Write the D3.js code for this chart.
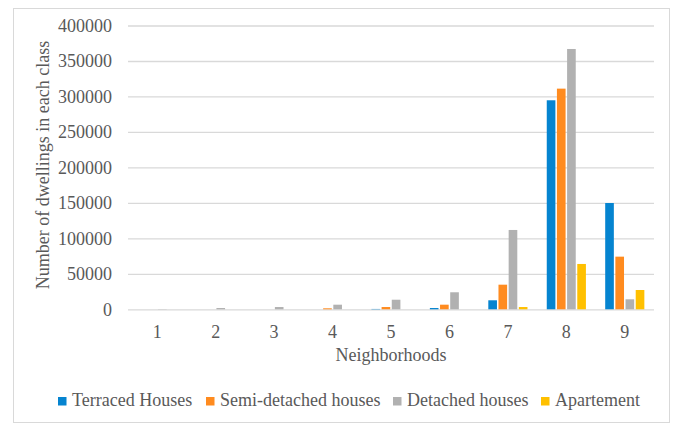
<!DOCTYPE html>
<html>
<head>
<meta charset="utf-8">
<script src="https://cdn.jsdelivr.net/npm/d3@7"></script>
<style>
  html, body { margin: 0; padding: 0; background: #fff; }
  svg text { font-family: "Liberation Serif", "Times New Roman", serif; fill: #595959; }
</style>
</head>
<body>
<div id="chart"></div>
<script>
// Data
const neighborhoods = ["1", "2", "3", "4", "5", "6", "7", "8", "9"];
const seriesNames = ["Terraced Houses", "Semi-detached houses", "Detached houses", "Apartement"];
const terraced = [0, 0, 0, 0, 500, 1800, 12700, 294600, 149800];
const semiDetached = [0, 0, 0, 1400, 3200, 6500, 34700, 311000, 74200];
const detached = [300, 1800, 3200, 6500, 13500, 24000, 111800, 366900, 14100];
const apartement = [0, 0, 0, 0, 0, 0, 3200, 63900, 27200];
const yTicks = [0, 50000, 100000, 150000, 200000, 250000, 300000, 350000, 400000];
const colors = ["#0584D0", "#FF8B1F", "#B1B1B1", "#FFC000"];

const seriesValues = [terraced, semiDetached, detached, apartement];

const width = 674, height = 425;
const margin = { top: 25.5, right: 20, bottom: 115.7, left: 128 };
const innerWidth = width - margin.left - margin.right;
const innerHeight = height - margin.top - margin.bottom;

const svg = d3.select("#chart")
  .append("svg")
  .attr("width", width)
  .attr("height", height);

// outer chart border
svg.append("rect")
  .attr("x", 13.5)
  .attr("y", 8.5)
  .attr("width", 656)
  .attr("height", 414)
  .attr("fill", "none")
  .attr("stroke", "#D9D9D9")
  .attr("stroke-width", 1);

const g = svg.append("g")
  .attr("transform", `translate(${margin.left},${margin.top})`);

// Scales
const x0 = d3.scaleBand()
  .domain(neighborhoods)
  .range([0, innerWidth])
  .paddingInner(0.33)
  .paddingOuter(0.165);

const x1 = d3.scaleBand()
  .domain(seriesNames)
  .range([0, x0.bandwidth()])
  .paddingInner(0.15);

const y = d3.scaleLinear()
  .domain([0, 400000])
  .range([innerHeight, 0]);

// Gridlines + y labels
const yAxis = d3.axisLeft(y)
  .tickValues(yTicks)
  .tickSize(-innerWidth)
  .tickPadding(16)
  .tickFormat(d3.format("d"));

g.append("g")
  .attr("class", "axis axis-y")
  .call(yAxis)
  .call(s => s.select(".domain").remove())
  .call(s => s.selectAll(".tick line").attr("stroke", "#D9D9D9").attr("stroke-width", 1.3))
  .call(s => s.selectAll(".tick text")
    .attr("font-size", 18)
    .attr("fill", "#595959")
    .style("font-family", "'Liberation Serif', serif"));

// X labels
const xAxis = d3.axisBottom(x0)
  .tickSize(0)
  .tickPadding(16);

g.append("g")
  .attr("class", "axis axis-x")
  .attr("transform", `translate(0,${innerHeight})`)
  .call(xAxis)
  .call(s => s.select(".domain").remove())
  .call(s => s.selectAll(".tick text")
    .attr("font-size", 18)
    .attr("fill", "#595959")
    .style("font-family", "'Liberation Serif', serif"));

// Bars
const groups = g.append("g")
  .selectAll("g")
  .data(neighborhoods)
  .join("g")
  .attr("transform", d => `translate(${x0(d)},0)`);

groups.selectAll("rect")
  .data((d, i) => seriesNames.map((name, k) => ({ name, k, value: seriesValues[k][i] })))
  .join("rect")
  .attr("x", d => x1(d.name))
  .attr("width", x1.bandwidth())
  .attr("y", d => y(d.value))
  .attr("height", d => innerHeight - y(d.value))
  .attr("fill", d => colors[d.k]);

// Axis titles
svg.append("text")
  .attr("x", margin.left + innerWidth / 2)
  .attr("y", 361)
  .attr("text-anchor", "middle")
  .attr("font-size", 18)
  .text("Neighborhoods");

svg.append("text")
  .attr("transform", `translate(49,165) rotate(-90)`)
  .attr("text-anchor", "middle")
  .attr("font-size", 18)
  .text("Number of dwellings in each class");

// Legend
const legendX = [58, 206, 393, 541];
const legend = svg.append("g")
  .selectAll("g")
  .data(seriesNames)
  .join("g")
  .attr("transform", (d, i) => `translate(${legendX[i]},397)`);

legend.append("rect")
  .attr("width", 8.5)
  .attr("height", 8.5)
  .attr("fill", (d, i) => colors[i]);

legend.append("text")
  .attr("x", 14)
  .attr("y", 9)
  .attr("font-size", 18)
  .text(d => d);
</script>
</body>
</html>
